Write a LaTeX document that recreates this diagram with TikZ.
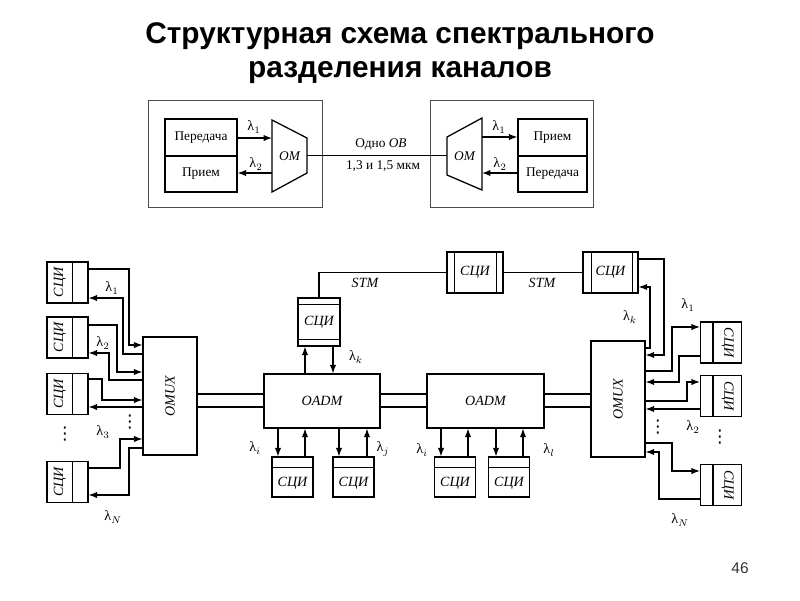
\documentclass[tikz,border=0pt]{standalone}
\usepackage{fontspec}
\setmainfont{Liberation Serif}
\newfontfamily\titlefont{Liberation Sans}
\newfontfamily\symfont{DejaVu Sans}
\usetikzlibrary{arrows.meta}
\tikzset{
  box/.style={draw, line width=0.9pt, inner sep=0pt},
  outer/.style={draw=black!70, line width=0.6pt, inner sep=0pt},
  arr/.style={-{Latex[length=6pt,width=4.5pt]}, line width=0.8pt},
  fibre/.style={line width=2pt},
  txt/.style={font=\fontsize{9.5}{11}\selectfont},
  lbl/.style={font=\fontsize{10}{12}\selectfont, inner sep=0.5pt},
  dots/.style={font=\symfont\fontsize{12.5}{13}\selectfont, inner sep=0pt},
  ital/.style={font=\fontsize{10}{12}\selectfont\itshape, inner sep=1pt},
  sciv/.style={box, minimum width=1.025cm, minimum height=1.025cm},
  scih/.style={box, minimum width=1.025cm, minimum height=1.0cm},
}
\begin{document}
\begin{tikzpicture}[x=0.025cm, y=-0.025cm]
  \useasboundingbox (0,0) rectangle (800,600);

  % title and page number
  \node[font=\titlefont\bfseries\fontsize{21.2}{24.5}\selectfont, align=center] (title) at (400,53)
    {Структурная схема спектрального\\разделения каналов};
  \node[font=\titlefont\fontsize{11}{13}\selectfont, text=black!80] (page) at (740,568) {46};

  % upper scheme: two terminals
  \node[outer, minimum width=4.35cm, minimum height=2.675cm] (sta) at (235,153.5) {};
  \node[outer, minimum width=4.075cm, minimum height=2.675cm] (stb) at (511.5,153.5) {};
  \node[box, txt, minimum width=1.8cm, minimum height=0.925cm] (txa) at (201,137.5) {Передача};
  \node[box, txt, minimum width=1.8cm, minimum height=0.9cm] (rxa) at (201,174) {Прием};
  \node[box, txt, minimum width=1.725cm, minimum height=0.925cm] (rxb) at (552.5,137.5) {Прием};
  \node[box, txt, minimum width=1.725cm, minimum height=0.9cm] (txb) at (552.5,174) {Передача};

  \draw[line width=0.9pt] (272,120) -- (307,138) -- (307,173) -- (272,192) -- cycle;
  \draw[line width=0.9pt] (482,118) -- (447,137) -- (447,175) -- (482,190) -- cycle;
  \node[txt, font=\fontsize{9.5}{11}\selectfont\itshape] (oma) at (289.5,156) {OM};
  \node[txt, font=\fontsize{9.5}{11}\selectfont\itshape] (omb) at (464.5,156) {OM};
  \coordinate (oma-in) at (272,138);
  \coordinate (oma-out) at (272,173);
  \coordinate (oma-line) at (307,155.5);
  \coordinate (omb-out) at (482,137);
  \coordinate (omb-in) at (482,173);
  \coordinate (omb-line) at (447,155.5);

  \draw[arr] (txa.east |- oma-in) -- (oma-in);
  \draw[arr] (oma-out) -- (rxa.east |- oma-out);
  \draw[arr] (omb-out) -- (rxb.west |- omb-out);
  \draw[arr] (txb.west |- omb-in) -- (omb-in);
  \draw[line width=1.2pt] (oma-line) -- (omb-line);

  \node[lbl] (la1) at (254,127) {λ$_1$};
  \node[lbl] (la2) at (256,164) {λ$_2$};
  \node[lbl] (lb1) at (499,127) {λ$_1$};
  \node[lbl] (lb2) at (500,164) {λ$_2$};
  \node[txt] (ob) at (381,144) {Одно \textit{OB}};
  \node[txt] (mkm) at (383,166) {1,3 и 1,5 мкм};

  % lower scheme: ring of OADM
  \node[box, minimum width=1.35cm, minimum height=2.95cm] (omuxa) at (170,396) {};
  \node[ital, rotate=90] at (omuxa) {OMUX};
  \node[box, minimum width=1.35cm, minimum height=2.9cm] (omuxb) at (618,399) {};
  \node[ital, rotate=90] at (omuxb) {OMUX};
  \node[box, ital, minimum width=2.9cm, minimum height=1.35cm] (oadma) at (322,401) {OADM};
  \node[box, ital, minimum width=2.925cm, minimum height=1.35cm] (oadmb) at (485.5,401) {OADM};

  \foreach \y in {394,407} {
    \draw[fibre] (omuxa.east |- 0,\y) -- (oadma.west |- 0,\y);
    \draw[fibre] (oadma.east |- 0,\y) -- (oadmb.west |- 0,\y);
    \draw[fibre] (oadmb.east |- 0,\y) -- (omuxb.west |- 0,\y);
  }

  % left СЦИ
  \foreach \n/\y in {l1/282.5, l2/337.5, l3/394, lN/482} {
    \node[sciv] (\n) at (67.5,\y) {};
    \draw[line width=0.9pt] (\n.north west) ++(26,0) -- ++(0,41);
    \node[ital, rotate=90] at (60,\y) {СЦИ};
  }
  % right СЦИ
  \foreach \n/\y in {r1/342.5, r2/396, rN/485} {
    \node[sciv] (\n) at (721,\y) {};
    \draw[line width=0.9pt] (\n.north west) ++(13,0) -- ++(0,41);
    \node[ital, rotate=-90] at (727.5,\y) {СЦИ};
  }

  \draw[arr] (l1.east |- 0,269) -| (129,345) -- (omuxa.west |- 0,345);
  \draw[arr] (omuxa.west |- 0,354) -| (123,298) -- (l1.east |- 0,298);
  \draw[arr] (l2.east |- 0,325) -| (117,372) -- (omuxa.west |- 0,372);
  \draw[arr] (omuxa.west |- 0,380) -| (109,353) -- (l2.east |- 0,353);
  \draw[arr] (l3.east |- 0,379) -| (102,400) -- (omuxa.west |- 0,400);
  \draw[arr] (omuxa.west |- 0,407) -- (l3.east |- 0,407);
  \draw[arr] (lN.east |- 0,468) -| (120,439) -- (omuxa.west |- 0,439);
  \draw[arr] (omuxa.west |- 0,448) -| (129,495) -- (lN.east |- 0,495);

  \node[lbl] at (112,288) {λ$_1$};
  \node[lbl] at (103,343) {λ$_2$};
  \node[lbl] at (103,432) {λ$_3$};
  \node[lbl] at (113,517) {λ$_N$};
  \node[dots] at (65,434) {⋮};
  \node[dots] at (130,422) {⋮};

  % add/drop СЦИ
  \node[box, minimum width=1.05cm, minimum height=1.2cm] (s0) at (319,322) {};
  \draw[line width=0.9pt] (s0.north west) ++(0,7) -- ++(42,0);
  \draw[line width=0.9pt] (s0.south west) ++(0,-7) -- ++(42,0);
  \node[ital] at (s0) {СЦИ};
  \node[box, ital, minimum width=1.4cm, minimum height=1.025cm] (s1) at (475,272.5) {СЦИ};
  \draw[line width=0.9pt] (s1.north west) ++(8,0) -- ++(0,41);
  \draw[line width=0.9pt] (s1.north east) ++(-7,0) -- ++(0,41);
  \node[box, ital, minimum width=1.375cm, minimum height=1.025cm] (s2) at (610.5,272.5) {СЦИ};
  \draw[line width=0.9pt] (s2.north west) ++(9,0) -- ++(0,41);
  \draw[line width=0.9pt] (s2.north east) ++(-6,0) -- ++(0,41);

  \draw[line width=0.8pt] (s0.north) |- (s1.west);
  \draw[line width=0.8pt] (s1.east) -- (s2.west);
  \node[ital] at (365,283) {STM};
  \node[ital] at (542,283) {STM};

  \draw[arr] (oadma.north -| 305,0) -- (s0.south -| 305,0);
  \draw[arr] (s0.south -| 333,0) -- (oadma.north -| 333,0);
  \node[lbl] at (356,357) {λ$_k$};

  % lower СЦИ
  \foreach \n/\x in {b1/292.5, b2/353.5, b3/455, b4/509} {
    \node[scih] (\n) at (\x,477) {};
    \draw[line width=0.9pt] (\n.north west) ++(0,11) -- ++(41,0);
    \node[ital] at (\x,483) {СЦИ};
  }
  \draw[arr] (oadma.south -| 278,0) -- (b1.north -| 278,0);
  \draw[arr] (b1.north -| 305,0) -- (oadma.south -| 305,0);
  \draw[arr] (oadma.south -| 339,0) -- (b2.north -| 339,0);
  \draw[arr] (b2.north -| 367,0) -- (oadma.south -| 367,0);
  \draw[arr] (oadmb.south -| 441,0) -- (b3.north -| 441,0);
  \draw[arr] (b3.north -| 468,0) -- (oadmb.south -| 468,0);
  \draw[arr] (oadmb.south -| 496,0) -- (b4.north -| 496,0);
  \draw[arr] (b4.north -| 523,0) -- (oadmb.south -| 523,0);
  \node[lbl] at (255,448) {λ$_i$};
  \node[lbl] at (383,449) {λ$_j$};
  \node[lbl] at (422,450) {λ$_i$};
  \node[lbl] at (549,450) {λ$_l$};

  % right side
  \draw[arr] (omuxb.east |- 0,348) -| (650,287) -- (s2.east |- 0,287);
  \draw[arr] (s2.east |- 0,259) -| (664,355) -- (omuxb.east |- 0,355);
  \draw[arr] (omuxb.east |- 0,371) -| (672,327) -- (r1.west |- 0,327);
  \draw[arr] (r1.west |- 0,356) -| (679,382) -- (omuxb.east |- 0,382);
  \draw[arr] (omuxb.east |- 0,401) -| (687,382) -- (r2.west |- 0,382);
  \draw[arr] (r2.west |- 0,409) -- (omuxb.east |- 0,409);
  \draw[arr] (omuxb.east |- 0,443) -| (672,471) -- (rN.west |- 0,471);
  \draw[arr] (rN.west |- 0,499) -| (659,452) -- (omuxb.east |- 0,452);

  \node[lbl] at (630,317) {λ$_k$};
  \node[lbl] at (688,305) {λ$_1$};
  \node[lbl] at (693,427) {λ$_2$};
  \node[lbl] at (680,520) {λ$_N$};
  \node[dots] at (658,427) {⋮};
  \node[dots] at (720,437) {⋮};
\end{tikzpicture}
\end{document}
